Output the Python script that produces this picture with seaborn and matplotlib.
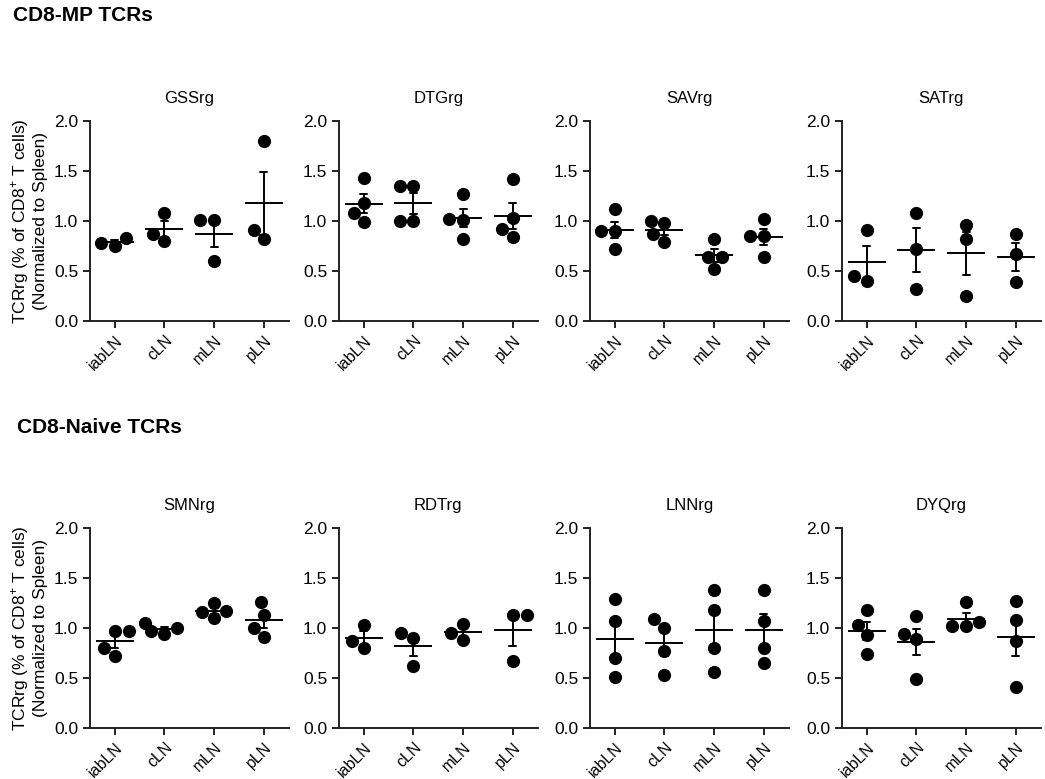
import pandas as pd
import seaborn as sns
import matplotlib.pyplot as plt

# sites on the x axis
sites = ['iabLN', 'cLN', 'mLN', 'pLN']

# CD8-MP TCRs (values per site, normalized to spleen)
GSSrg = [[0.83, 0.75, 0.78], [1.08, 0.80, 0.87], [1.01, 1.01, 0.60], [1.80, 0.82, 0.91]]
DTGrg = [[1.43, 1.18, 1.08, 0.99], [1.35, 1.35, 1.00, 1.00], [1.27, 1.02, 1.01, 0.82], [1.42, 1.03, 0.92, 0.84]]
SAVrg = [[1.12, 0.90, 0.90, 0.72], [1.00, 0.98, 0.87, 0.79], [0.82, 0.64, 0.64, 0.52], [1.02, 0.85, 0.85, 0.64]]
SATrg = [[0.91, 0.45, 0.40], [1.08, 0.72, 0.32], [0.96, 0.82, 0.25], [0.87, 0.67, 0.39]]

# CD8-Naive TCRs
SMNrg = [[0.97, 0.97, 0.80, 0.72], [1.00, 1.05, 0.94, 0.97], [1.25, 1.17, 1.16, 1.10], [1.26, 1.13, 1.00, 0.91]]
RDTrg = [[1.03, 0.87, 0.80], [0.95, 0.90, 0.62], [1.04, 0.88, 0.95], [1.13, 1.13, 0.67]]
LNNrg = [[1.29, 1.07, 0.70, 0.51], [1.09, 1.00, 0.77, 0.53], [1.38, 1.18, 0.80, 0.56], [1.38, 1.07, 0.80, 0.65]]
DYQrg = [[1.18, 1.03, 0.93, 0.74], [1.12, 0.94, 0.89, 0.49], [1.26, 1.06, 1.02, 1.02], [1.27, 1.08, 0.87, 0.41]]

mp_panels = [('GSSrg', GSSrg), ('DTGrg', DTGrg), ('SAVrg', SAVrg), ('SATrg', SATrg)]
naive_panels = [('SMNrg', SMNrg), ('RDTrg', RDTrg), ('LNNrg', LNNrg), ('DYQrg', DYQrg)]

sns.set_style('ticks')
plt.rcParams['font.family'] = ['Liberation Sans', 'DejaVu Sans']
plt.rcParams['mathtext.fontset'] = 'custom'
plt.rcParams['mathtext.rm'] = 'Liberation Sans'
plt.rcParams['axes.edgecolor'] = '#222222'
plt.rcParams['xtick.color'] = '#222222'
plt.rcParams['ytick.color'] = '#222222'
plt.rcParams['text.color'] = 'black'
plt.rcParams['axes.labelcolor'] = 'black'
plt.rcParams['xtick.labelcolor'] = 'black'
plt.rcParams['ytick.labelcolor'] = 'black'

fig = plt.figure(figsize=(10.45, 7.79), dpi=100)

lefts = [0.0861, 0.3244, 0.5646, 0.8057]
bottoms = [0.588, 0.0655]
w, h = 0.190, 0.2567


def to_frame(vals):
    rows = []
    for site, v in zip(sites, vals):
        for x in v:
            rows.append({'site': site, 'value': x})
    return pd.DataFrame(rows)


for r, panels in enumerate([mp_panels, naive_panels]):
    for c, (name, vals) in enumerate(panels):
        ax = fig.add_axes([lefts[c], bottoms[r], w, h])
        df = to_frame(vals)
        sns.swarmplot(data=df, x='site', y='value', order=sites, color='black',
                      size=9.5, ax=ax, zorder=2)
        sns.pointplot(data=df, x='site', y='value', order=sites, errorbar='se',
                      color='black', markers='_', markersize=27, markeredgewidth=1.4,
                      linestyle='none', capsize=0.14, err_kws={'linewidth': 1.4},
                      ax=ax, zorder=3)
        ax.set_xlim(-0.5, 3.5)
        ax.set_ylim(0, 2.0)
        ax.set_yticks([0, 0.5, 1.0, 1.5, 2.0])
        ax.set_yticklabels(['0.0', '0.5', '1.0', '1.5', '2.0'], fontsize=12.5)
        ax.set_xticks(range(4))
        ax.set_xticklabels(sites, rotation=45, ha='right', rotation_mode='anchor', fontsize=11.5)
        ax.tick_params(length=5, width=1.4)
        for s in ['left', 'bottom']:
            ax.spines[s].set_linewidth(1.4)
        sns.despine(ax=ax)
        ax.set_xlabel('')
        ax.set_title(name, fontsize=12, pad=13)
        if c == 0:
            ax.set_ylabel('TCRrg (% of CD8$^{+}$ T cells)\n(Normalized to Spleen)', fontsize=12.5)
        else:
            ax.set_ylabel('')

fig.text(0.012, 0.980, 'CD8-MP TCRs', fontsize=15, fontweight='bold', va='center')
fig.text(0.016, 0.451, 'CD8-Naive TCRs', fontsize=15, fontweight='bold', va='center')

fig.savefig('out.png', dpi=100)
